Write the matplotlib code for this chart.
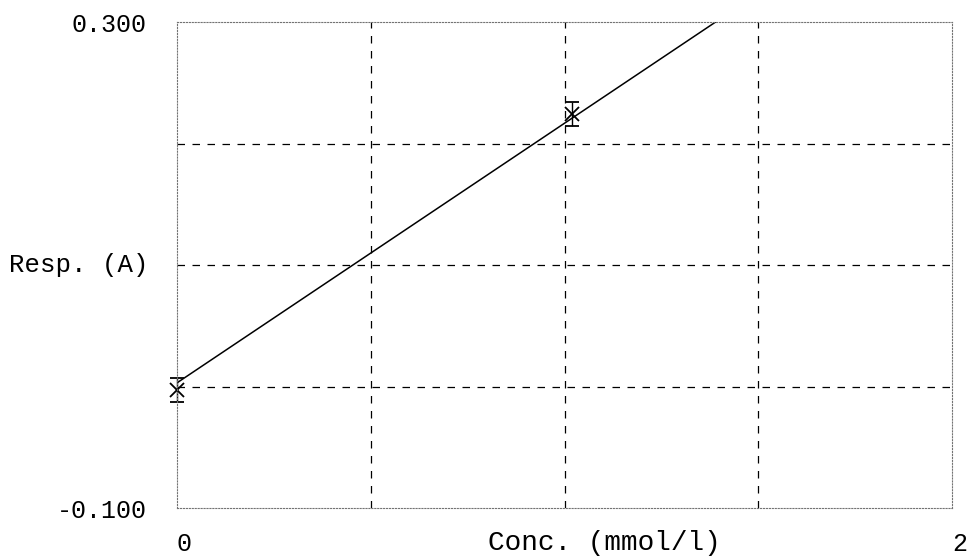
import numpy as np
import matplotlib
matplotlib.use("Agg")
import matplotlib.pyplot as plt

# calibration points (x, y, error)
conc = [0.0, 1.02]
resp = [-0.003, 0.224]
resp_err = [0.010, 0.010]

# fitted calibration line endpoints
line_x = [0.0, 1.39]
line_y = [0.003, 0.300]

x_grid = [0.5, 1.0, 1.5]
y_grid = [0.0, 0.1, 0.2]
x_ticks = [0, 2]
x_ticklabels = ["0", "2"]
y_ticks = [-0.1, 0.3]
y_ticklabels = ["-0.100", "0.300"]

plt.rcParams['font.family'] = ['Liberation Mono', 'DejaVu Sans Mono']

fig = plt.figure(figsize=(9.68, 5.56), dpi=100)
ax = fig.add_axes([177/968, 48/556, 775/968, 486/556])

for gx in x_grid:
    ax.axvline(gx, color='black', lw=0.9, ls=(0, (6, 6)))
for gy in y_grid:
    ax.axhline(gy, color='black', lw=0.9, ls=(0, (6, 6)))

ax.plot(line_x, line_y, color='black', lw=1.1)
eb = ax.errorbar(conc, resp, yerr=resp_err, fmt='x', color='black', ms=10, mew=1.3,
                 elinewidth=1.0, capsize=5, capthick=1.0)
for a in eb.lines[0:1] + tuple(eb.lines[1]) + tuple(eb.lines[2]):
    a.set_clip_on(False)

ax.set_xlim(0, 2)
ax.set_ylim(-0.1, 0.3)
ax.set_xticks(x_ticks)
ax.set_xticklabels(x_ticklabels, ha='left')
ax.set_yticks(y_ticks)
ax.set_yticklabels(y_ticklabels)
ax.tick_params(axis='both', length=0, labelsize=18)
ax.tick_params(axis='x', pad=17)
ax.tick_params(axis='y', pad=22)

for s in ax.spines.values():
    s.set_linestyle(':')
    s.set_color('0.45')
    s.set_linewidth(0.8)

ax.set_xlabel("Conc. (mmol/l)", fontsize=20, va='center')
ax.xaxis.set_label_coords(0.551, -0.072)
ax.set_ylabel("Resp. (A)", fontsize=18.5, rotation=0, ha='right', va='center')
ax.yaxis.set_label_coords(-0.037, 0.5)

fig.savefig("out.png", dpi=100)
